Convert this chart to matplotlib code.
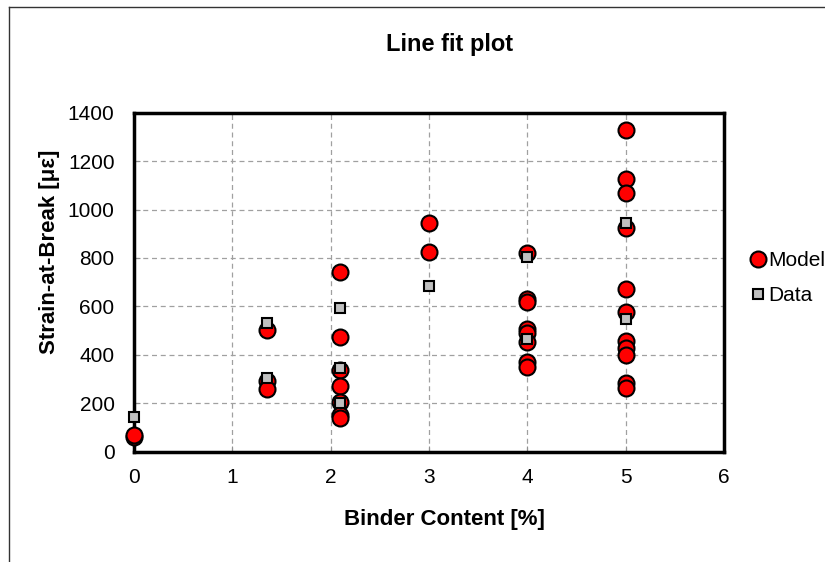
import matplotlib.pyplot as plt
from matplotlib.lines import Line2D

plt.rcParams['font.family'] = ['Liberation Sans', 'DejaVu Sans']

# binder content [%] and strain-at-break values
model_x = [0, 0,
           1.35, 1.35, 1.35,
           2.1, 2.1, 2.1, 2.1, 2.1, 2.1, 2.1,
           3, 3,
           4, 4, 4, 4, 4, 4, 4, 4,
           5, 5, 5, 5, 5, 5, 5, 5, 5, 5, 5]
model_y = [60, 70,
           503, 290, 258,
           743, 475, 338, 273, 204, 150, 138,
           943, 824,
           822, 630, 620, 505, 490, 455, 372, 350,
           1330, 1126, 1067, 923, 672, 578, 458, 427, 400, 282, 262]

data_x = [0, 1.35, 1.35, 2.1, 2.1, 2.1, 3, 4, 4, 5, 5]
data_y = [142, 530, 303, 592, 347, 200, 684, 805, 467, 946, 548]

x_ticks = [0, 1, 2, 3, 4, 5, 6]
y_ticks = [0, 200, 400, 600, 800, 1000, 1200, 1400]

fig = plt.figure(figsize=(8.25, 5.62), dpi=100)
ax = fig.add_axes([0.1624, 0.1963, 0.715, 0.6032])

ax.plot(model_x, model_y, 'o', color='#ff0000', markeredgecolor='black',
        markeredgewidth=1.5, markersize=11.5, label='Model', zorder=3,
        clip_on=False)
ax.plot(data_x, data_y, 's', color='#c0c0c0', markeredgecolor='black',
        markeredgewidth=1.5, markersize=7.5, label='Data', zorder=4,
        clip_on=False)

ax.set_xlim(0, 6)
ax.set_ylim(0, 1400)
ax.set_xticks(x_ticks)
ax.set_yticks(y_ticks)
ax.grid(True, linestyle=(0, (4, 3)), color='#a0a0a0', linewidth=0.9)
ax.set_axisbelow(True)
for s in ax.spines.values():
    s.set_linewidth(2.5)
    s.set_color('black')
ax.tick_params(direction='in', length=4, width=0.8, color='#909090',
               labelsize=15)
ax.tick_params(axis='x', pad=12)
ax.tick_params(axis='y', pad=14)

fig.text(444 / 825, 1 - 519 / 562, 'Binder Content [%]', ha='center',
         va='center', fontsize=16, fontweight='bold')
fig.text(50 / 825, 1 - 252 / 562, 'Strain-at-Break [\u03bc\u03b5]', ha='center',
         va='center', rotation=90, fontsize=16, fontweight='bold')
fig.text(450 / 825, 1 - 45 / 562, 'Line fit plot', ha='center', va='center',
         fontsize=17, fontweight='bold')

fig.legend(loc='center left', bbox_to_anchor=(740 / 825, 1 - 278 / 562),
           frameon=False, fontsize=15, handletextpad=0.05, handlelength=0.9,
           labelspacing=0.75, borderaxespad=0)

# chart frame edges
fig.add_artist(Line2D([9 / 825, 9 / 825], [0, 1 - 7 / 562],
                      transform=fig.transFigure, color='#333333', lw=1))
fig.add_artist(Line2D([9 / 825, 1], [1 - 7 / 562, 1 - 7 / 562],
                      transform=fig.transFigure, color='#333333', lw=1))

fig.savefig('out.png', dpi=100)
